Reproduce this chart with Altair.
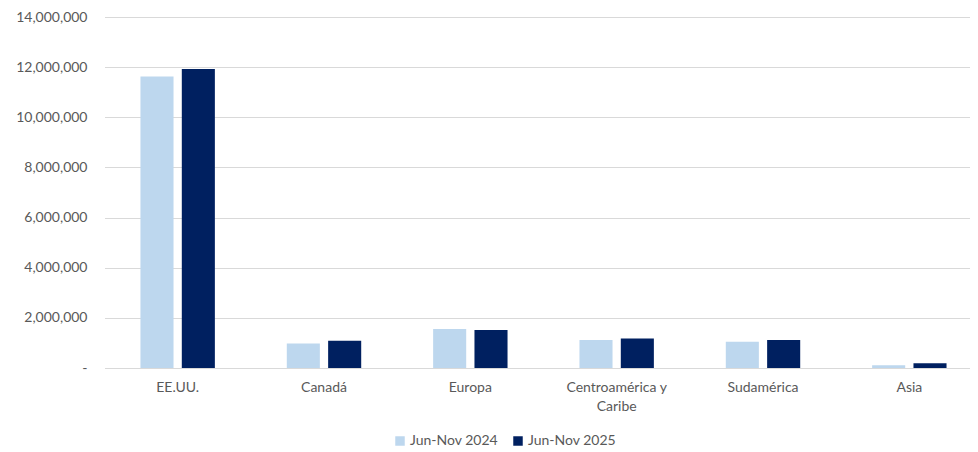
import altair as alt
import pandas as pd

categories = ["EE.UU.", "Canadá", "Europa", "Centroamérica y|Caribe", "Sudamérica", "Asia"]
series = ["Jun-Nov 2024", "Jun-Nov 2025"]
values_2024 = [11630000, 980000, 1560000, 1120000, 1050000, 110000]
values_2025 = [11930000, 1090000, 1520000, 1180000, 1120000, 190000]
colors = ["#BDD7EE", "#002060"]

rows = []
for c, a, b in zip(categories, values_2024, values_2025):
    rows.append({"cat": c, "serie": series[0], "v": a})
    rows.append({"cat": c, "serie": series[1], "v": b})
df = pd.DataFrame(rows)

FONT = "Lato"
TXT = "#595959"

chart = alt.Chart(df).mark_bar().encode(
    x=alt.X("cat:N", sort=categories, title=None,
            scale=alt.Scale(paddingInner=0, paddingOuter=0, range=[-0.5, 877.5]),
            axis=alt.Axis(labelAngle=0, domain=False, ticks=False, labelPadding=12,
                          labelExpr="split(datum.label, '|')", labelFont=FONT,
                          labelFontSize=14, labelColor=TXT, labelLineHeight=19)),
    xOffset=alt.XOffset("serie:N", sort=series,
                        scale=alt.Scale(paddingInner=0.2, paddingOuter=0.87)),
    y=alt.Y("v:Q", title=None,
            scale=alt.Scale(domain=[0, 14000000], nice=False),
            axis=alt.Axis(values=list(range(0, 14000001, 2000000)),
                          labelExpr="datum.value == 0 ? '-' : format(datum.value, ',')",
                          domain=False, ticks=False, labelPadding=18,
                          labelFont=FONT, labelFontSize=14, labelColor=TXT,
                          gridColor="#D9D9D9", gridWidth=1)),
    color=alt.Color("serie:N", sort=series, title=None,
                    scale=alt.Scale(domain=series, range=colors),
                    legend=alt.Legend(orient="none", legendX=288, legendY=417,
                                      direction="horizontal", symbolType="square",
                                      symbolSize=90, symbolStrokeWidth=0,
                                      labelFont=FONT, labelFontSize=14, labelColor=TXT,
                                      columnPadding=12, labelOffset=3)),
).properties(
    width=865, height=351,
    autosize=alt.AutoSizeParams(type="none"),
    padding={"left": 97, "top": 9, "right": 0, "bottom": 80},
).configure_view(stroke=None)

chart.save("out.html", embed_options={"renderer": "svg", "actions": False})
